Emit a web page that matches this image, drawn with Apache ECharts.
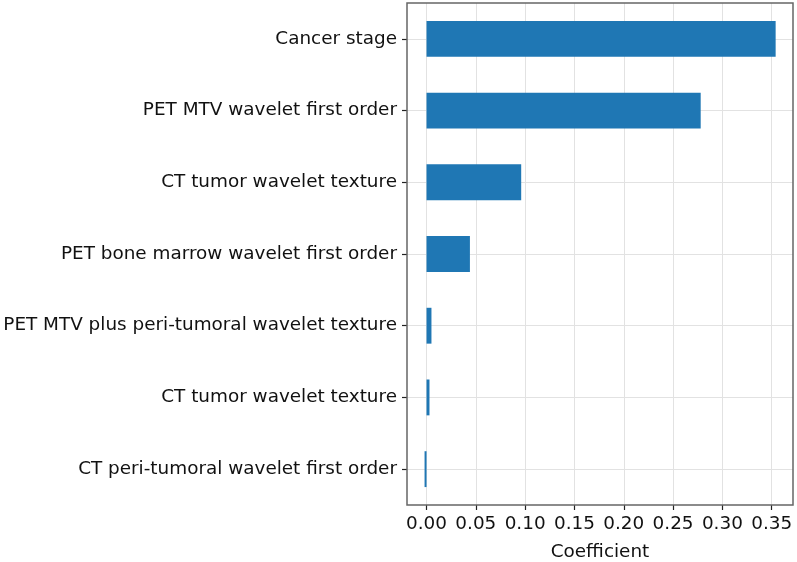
<!DOCTYPE html>
<html><head><meta charset="utf-8">
<script src="https://cdn.jsdelivr.net/npm/echarts@6/dist/echarts.min.js"></script>
<style>html,body{margin:0;padding:0;background:#fff}#c{width:797px;height:562px}</style>
</head><body><div id="c"></div>
<script>
// categories listed top to bottom
const categories = [
  "Cancer stage",
  "PET MTV wavelet first order",
  "CT tumor wavelet texture",
  "PET bone marrow wavelet first order",
  "PET MTV plus peri-tumoral wavelet texture",
  "CT tumor wavelet texture",
  "CT peri-tumoral wavelet first order"
];
const coefficients = [0.354, 0.278, 0.096, 0.044, 0.005, 0.003, -0.002];
const xTicks = [0, 0.05, 0.10, 0.15, 0.20, 0.25, 0.30, 0.35];

const font = "DejaVu Sans";
const fs = 18.4;
const chart = echarts.init(document.getElementById('c'), null, {renderer: 'canvas'});
chart.setOption({
  animation: false,
  backgroundColor: '#fff',
  grid: {left: 407, right: 4, top: 3, bottom: 57, show: true, borderColor: '#666', borderWidth: 1.5,
    backgroundColor: 'transparent', z: 10, outerBoundsMode: 'none', containLabel: false},
  xAxis: {
    type: 'value', min: -0.0198, max: 0.3716,
    name: 'Coefficient', nameLocation: 'middle', nameGap: 38,
    nameTextStyle: {fontFamily: font, fontSize: fs, color: '#111'},
    axisLine: {show: false, onZero: false},
    axisTick: {show: true, length: 5, inside: false, customValues: xTicks, lineStyle: {color: '#222', width: 1.2}},
    axisLabel: {customValues: xTicks, fontFamily: font, fontSize: fs, color: '#111', margin: 10,
      formatter: v => v.toFixed(2)},
    splitLine: {show: true, lineStyle: {color: '#e2e2e2', width: 1}}
  },
  yAxis: {
    type: 'category', data: categories, inverse: true,
    axisLine: {show: false, onZero: false},
    axisTick: {show: true, length: 5, alignWithLabel: true, lineStyle: {color: '#222', width: 1.2}},
    axisLabel: {fontFamily: font, fontSize: fs, color: '#111', margin: 10},
    splitLine: {show: true, alignWithLabel: true, lineStyle: {color: '#e2e2e2', width: 1}}
  },
  series: [{
    type: 'bar', data: coefficients, barWidth: '50%',
    itemStyle: {color: '#1f77b4'}
  }]
});
</script></body></html>
